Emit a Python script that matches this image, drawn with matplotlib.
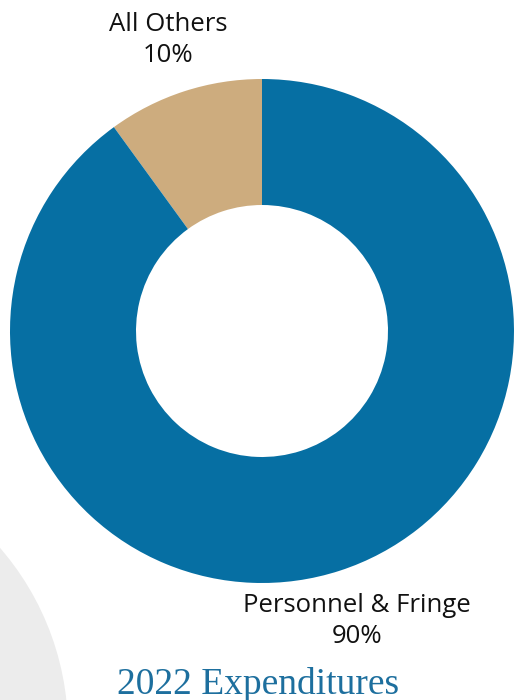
import matplotlib
matplotlib.use("Agg")
import matplotlib.pyplot as plt
from matplotlib.patches import Circle

categories = ["All Others", "Personnel & Fringe"]
shares = [10, 90]
colors = ["#cdac7e", "#066fa3"]
title = "2022 Expenditures"

W, H = 514, 700
fig = plt.figure(figsize=(W / 100, H / 100), dpi=100)
ax = fig.add_axes([0, 0, 1, 1])

# soft background disc in the lower-left corner
ax.add_patch(Circle((-210, H - 730), 278, color="#ececec", zorder=0, lw=0))

cx, cy = 262, H - 331
ax.pie(shares, colors=colors, startangle=90, counterclock=True,
       radius=252, center=(cx, cy), frame=True,
       wedgeprops=dict(width=126, linewidth=0))
ax.set_xlim(0, W)
ax.set_ylim(0, H)
ax.set_aspect("equal")
ax.axis("off")

label_font = dict(family="Open Sans", fontsize=18.5, color="#111111",
                  ha="center", va="center", linespacing=1.35)
ax.text(168, H - 40, f"{categories[0]}\n{shares[0]}%", **label_font)
ax.text(357, H - 621, f"{categories[1]}\n{shares[1]}%", **label_font)

ax.text(258, H - 684, title, family="Liberation Serif", fontsize=27,
        color="#1d6f9e", ha="center", va="center")

fig.savefig("out.png", dpi=100)
